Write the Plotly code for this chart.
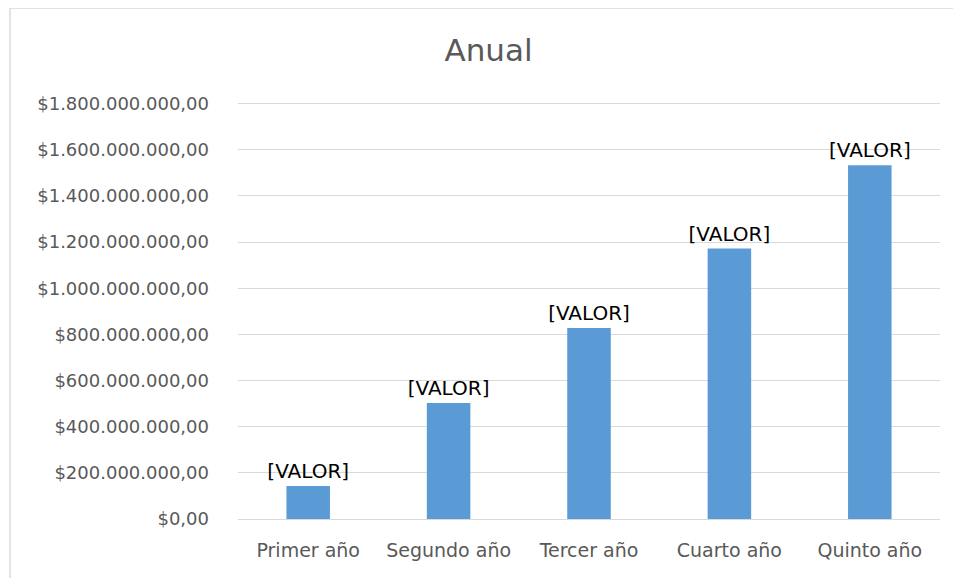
import plotly.graph_objects as go

categories = ["Primer año", "Segundo año", "Tercer año", "Cuarto año", "Quinto año"]
values = [143_000_000, 503_000_000, 828_000_000, 1_172_000_000, 1_533_000_000]
tick_vals = [0, 200e6, 400e6, 600e6, 800e6, 1000e6, 1200e6, 1400e6, 1600e6, 1800e6]
tick_text = ["$0,00", "$200.000.000,00", "$400.000.000,00", "$600.000.000,00",
             "$800.000.000,00", "$1.000.000.000,00", "$1.200.000.000,00",
             "$1.400.000.000,00", "$1.600.000.000,00", "$1.800.000.000,00"]
label_text = "[VALOR]"

GREY = "#595959"
FONT = "DejaVu Sans"

fig = go.Figure()
fig.add_trace(go.Bar(x=categories, y=values, marker=dict(color="#5b9bd5", line=dict(width=0)),
    texttemplate=label_text, textposition="outside", cliponaxis=False, constraintext="none",
    textfont=dict(family=FONT, size=20, color="#000000"), hoverinfo="x+y"))

# page has an 8px body margin, so margins are shifted by 8
# range a bit above 1.8e9 so plotly keeps the top gridline
fig.update_layout(
    width=961, height=578, paper_bgcolor="white", plot_bgcolor="white",
    margin=dict(l=230, r=29, t=94, b=67), bargap=0.69, showlegend=False,
    title=dict(text="Anual", x=0.5, xanchor="center", y=0.927, yanchor="middle",
               font=dict(family=FONT, size=31, color=GREY)),
    font=dict(family=FONT, color=GREY),
    xaxis=dict(showgrid=False, showline=False, ticks="", ticklabelstandoff=18,
               tickfont=dict(size=19, color=GREY)),
    yaxis=dict(range=[0, 1.8072e9], tickvals=tick_vals, ticktext=tick_text, showgrid=True,
               gridcolor="#d9d9d9", gridwidth=1, zeroline=True, zerolinecolor="#d9d9d9",
               zerolinewidth=1, showline=False, ticks="", ticklabelstandoff=28,
               tickfont=dict(size=18, color=GREY)),
    shapes=[dict(type="rect", xref="paper", yref="paper", x0=-0.3248, x1=1.2,
                 y0=-0.4, y1=1.2254, line=dict(color="#d9d9d9", width=1.5),
                 fillcolor="rgba(0,0,0,0)", layer="below")],
)

fig.write_html("out.html")
